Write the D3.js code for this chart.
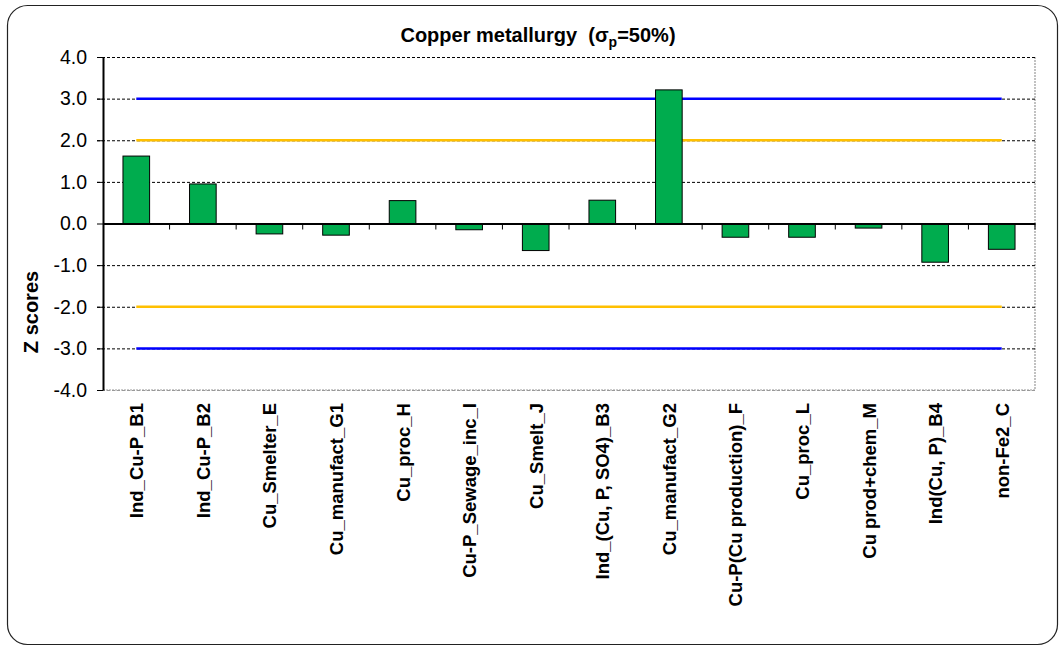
<!DOCTYPE html>
<html><head><meta charset="utf-8">
<script src="https://cdn.jsdelivr.net/npm/d3@7"></script>
<style>body{margin:0;background:#fff}svg{display:block;font-family:"Liberation Sans",Arial,sans-serif}</style>
</head><body>
<script>
const categories = ["Ind_Cu-P_B1","Ind_Cu-P_B2","Cu_Smelter_E","Cu_manufact_G1","Cu_proc_H","Cu-P_Sewage_inc_I","Cu_Smelt_J","Ind_(Cu, P, SO4)_B3","Cu_manufact_G2","Cu-P(Cu production)_F","Cu_proc_L","Cu prod+chem_M","Ind(Cu, P)_B4","non-Fe2_C"];
const zScores = [1.62, 0.95, -0.25, -0.28, 0.55, -0.15, -0.65, 0.56, 3.21, -0.33, -0.33, -0.11, -0.93, -0.62];
const yTicks = [4,3,2,1,0,-1,-2,-3,-4];
const limits2 = [2,-2];
const limits3 = [3,-3];

const W=1064,H=652;
const FF="Liberation Sans, Arial, sans-serif";
const svg=d3.select("body").append("svg").attr("width",W).attr("height",H);
svg.append("rect").attr("x",7.5).attr("y",5.5).attr("width",1050).attr("height",639).attr("rx",20)
  .attr("fill","#fff").attr("stroke","#222").attr("stroke-width",1.2);

const L=103,R=1035,T=57,B=390;
const x=d3.scaleBand().domain(categories).range([L,R]).paddingInner(0.6).paddingOuter(0.3);
const xb=d3.scaleBand().domain(categories).range([L,R]);
const y=d3.scaleLinear().domain([-4,4]).range([B,T]);

// plot area border (right/bottom gray)
svg.append("path").attr("d",`M${L},${B}H${R}V${T}`).attr("fill","none").attr("stroke","#999").attr("stroke-width",1.2).attr("stroke-dasharray","2,1");

// gridlines
svg.append("g").selectAll("line").data(yTicks.filter(d=>d!==0)).join("line")
  .attr("x1",L-6).attr("x2",R).attr("y1",d=>y(d)+0.5).attr("y2",d=>y(d)+0.5)
  .attr("stroke",d=>d===-4?"#999":"#000").attr("stroke-width",1).attr("stroke-dasharray","3,2");

// limit lines
const c0=xb(categories[0])+xb.bandwidth()/2, c1=xb(categories[categories.length-1])+xb.bandwidth()/2;
svg.append("g").selectAll("line").data(limits2).join("line")
  .attr("x1",c0).attr("x2",c1).attr("y1",d=>y(d)).attr("y2",d=>y(d))
  .attr("stroke","#FFC000").attr("stroke-width",2.5);
svg.append("g").selectAll("line").data(limits3).join("line")
  .attr("x1",c0).attr("x2",c1).attr("y1",d=>y(d)).attr("y2",d=>y(d))
  .attr("stroke","#0000FF").attr("stroke-width",2.5);

// bars
svg.append("g").selectAll("rect").data(categories).join("rect")
  .attr("x",d=>x(d)).attr("width",x.bandwidth())
  .attr("y",(d,i)=>y(Math.max(0,zScores[i]))).attr("height",(d,i)=>Math.abs(y(zScores[i])-y(0)))
  .attr("fill","#00AC4E").attr("stroke","#000").attr("stroke-width",1);

// y axis
const ya=svg.append("g").attr("transform",`translate(${L},0)`)
  .call(d3.axisLeft(y).tickValues(yTicks).tickFormat(d=>d.toFixed(1)).tickSize(6).tickSizeOuter(0));
ya.select(".domain").attr("stroke","#000").attr("stroke-width",2);
ya.selectAll(".tick line").attr("stroke","#000");
ya.selectAll(".tick text").attr("font-size",19.5).attr("fill","#000").attr("x",-16).attr("font-family",FF);

// zero axis with ticks
const xa=svg.append("g").attr("transform",`translate(0,${y(0)})`)
  .call(d3.axisBottom(xb).tickSize(0).tickFormat(""));
xa.select(".domain").attr("stroke","#000").attr("stroke-width",2);
svg.append("g").selectAll("line").data(categories.slice(1).concat(["__end"])).join("line")
  .attr("x1",(d,i)=>i<categories.length-1?xb(d):R).attr("x2",(d,i)=>i<categories.length-1?xb(d):R)
  .attr("y1",y(0)).attr("y2",y(0)+6).attr("stroke","#000").attr("stroke-width",1);

// x labels
svg.append("g").selectAll("text").data(categories).join("text")
  .attr("transform",d=>`translate(${xb(d)+xb.bandwidth()/2+7},403) rotate(-90)`)
  .attr("text-anchor","end").attr("font-size",18.5).attr("font-weight","bold").text(d=>d);

// y title
svg.append("text").attr("transform","translate(38,312) rotate(-90)").attr("text-anchor","middle")
  .attr("font-size",20).attr("font-weight","bold").text("Z scores");

// title
const t=svg.append("text").attr("x",538).attr("y",42).attr("text-anchor","middle").attr("font-size",20).attr("font-weight","bold");
t.append("tspan").text("Copper metallurgy\u00A0\u00A0(σ");
t.append("tspan").attr("font-size",14).attr("dy",5).text("p");
t.append("tspan").attr("dy",-5).text("=50%)");
</script>
</body></html>
